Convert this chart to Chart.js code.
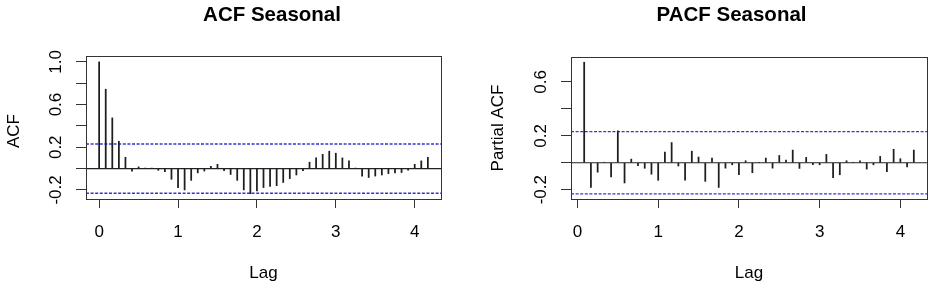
<!DOCTYPE html>
<html>
<head>
<meta charset="utf-8">
<script src="https://cdn.jsdelivr.net/npm/chart.js"></script>
<style>
    html, body { margin: 0; padding: 0; background: #fff; }
    .panel { position: absolute; top: 0; height: 290px; }
    #acfPanel { left: 0; width: 467px; }
    #pacfPanel { left: 467px; width: 468px; }
</style>
</head>
<body>
<div class="panel" id="acfPanel"><canvas id="acfChart" width="467" height="290"></canvas></div>
<div class="panel" id="pacfPanel"><canvas id="pacfChart" width="468" height="290"></canvas></div>

<script>
// --- Data (lags in years, frequency 12) ---
const acfLags = [];
for (let k = 0; k <= 50; k++) acfLags.push(k / 12);
const acfValues = [
    1.0, 0.744, 0.475, 0.256, 0.106, -0.024, 0.016, 0.003, 0.002, -0.016,
    -0.03, -0.10, -0.18, -0.20, -0.11, -0.04, -0.023, 0.02, 0.04, -0.02,
    -0.055, -0.11, -0.20, -0.235, -0.21, -0.178, -0.167, -0.16, -0.13, -0.094,
    -0.06, -0.02, 0.06, 0.10, 0.134, 0.163, 0.144, 0.10, 0.072, 0.003,
    -0.07, -0.084, -0.07, -0.06, -0.047, -0.04, -0.037, -0.015, 0.04, 0.072,
    0.106
];

const pacfLags = [];
for (let k = 1; k <= 50; k++) pacfLags.push(k / 12);
const pacfValues = [
    0.746, -0.183, -0.07, 0.004, -0.105, 0.237, -0.15, 0.027, -0.022, -0.041,
    -0.085, -0.13, 0.079, 0.15, -0.024, -0.13, 0.086, 0.042, -0.138, 0.035,
    -0.183, -0.04, -0.015, -0.089, 0.015, -0.074, 0.003, 0.035, -0.04, 0.054,
    0.02, 0.094, -0.042, 0.04, -0.015, -0.015, 0.062, -0.111, -0.089, 0.015,
    0.003, 0.015, -0.047, -0.015, 0.047, -0.067, 0.10, 0.03, -0.03, 0.094
];

const confLimit = 0.231;   // 1.96 / sqrt(n)

// tick positions and labels
const lagTicks = [0, 1, 2, 3, 4];
const lagTickLabels = ['0', '1', '2', '3', '4'];
const acfYTicks = [-0.2, 0, 0.2, 0.4, 0.6, 0.8, 1.0];
const acfYLabelValues = [-0.2, 0.2, 0.6, 1.0];
const acfYLabels = ['-0.2', '0.2', '0.6', '1.0'];
const pacfYTicks = [-0.2, 0, 0.2, 0.4, 0.6];
const pacfYLabelValues = [-0.2, 0.2, 0.6];
const pacfYLabels = ['-0.2', '0.2', '0.6'];

const FONT = "'Liberation Sans', Arial, sans-serif";
const AXIS_COL = '#333';
const CONF_COL = '#3434d2';

// Kutu + R tarzı metinler (döndürülmüş y etiketleri dahil)
const rStylePlugin = {
    id: 'rStyle',
    afterDraw(chart, args, opts) {
        const ctx = chart.ctx;
        const area = chart.chartArea;
        const xs = chart.scales.x;
        const ys = chart.scales.y;

        ctx.save();
        // box
        ctx.strokeStyle = AXIS_COL;
        ctx.lineWidth = 1;
        ctx.strokeRect(Math.round(area.left) + 0.5, Math.round(area.top) + 0.5,
            Math.round(area.right - area.left), Math.round(area.bottom - area.top));

        ctx.fillStyle = '#000';
        ctx.textBaseline = 'middle';
        ctx.textAlign = 'center';

        // title
        ctx.font = 'bold 20.5px ' + FONT;
        ctx.fillText(opts.title, opts.titleX, 15);

        // x tick labels + axis title
        ctx.font = '17px ' + FONT;
        opts.xTicks.forEach(function (v, i) {
            ctx.fillText(opts.xLabels[i], xs.getPixelForValue(v), 232);
        });
        ctx.fillText('Lag', (area.left + area.right) / 2, 273);

        // y tick labels, rotated
        opts.yValues.forEach(function (v, i) {
            ctx.save();
            ctx.translate(area.left - 30, ys.getPixelForValue(v));
            ctx.rotate(-Math.PI / 2);
            ctx.fillText(opts.yLabels[i], 0, 0);
            ctx.restore();
        });

        // y axis title
        ctx.save();
        ctx.translate(opts.yTitleX, opts.yTitleY);
        ctx.rotate(-Math.PI / 2);
        ctx.fillText(opts.yTitle, 0, 0);
        ctx.restore();

        ctx.restore();
    }
};

function makeSpikeChart(canvasId, lags, values, cfg) {
    const ctx = document.getElementById(canvasId).getContext('2d');
    const xMin = cfg.xMin, xMax = cfg.xMax;

    return new Chart(ctx, {
        type: 'bar',
        data: {
            datasets: [
                {
                    type: 'line',
                    data: [{ x: xMin, y: 0 }, { x: xMax, y: 0 }],
                    borderColor: '#222',
                    borderWidth: 1.2,
                    pointRadius: 0,
                    order: 1
                },
                {
                    type: 'line',
                    data: [{ x: xMin, y: confLimit }, { x: xMax, y: confLimit }],
                    borderColor: CONF_COL,
                    borderWidth: 1.4,
                    borderDash: [3, 1.6],
                    pointRadius: 0,
                    order: 2
                },
                {
                    type: 'line',
                    data: [{ x: xMin, y: -confLimit }, { x: xMax, y: -confLimit }],
                    borderColor: CONF_COL,
                    borderWidth: 1.4,
                    borderDash: [3, 1.6],
                    pointRadius: 0,
                    order: 2
                },
                {
                    type: 'bar',
                    data: lags.map(function (x, i) { return { x: x, y: values[i] }; }),
                    backgroundColor: '#1e1e1e',
                    barThickness: 1.1,
                    grouped: false,
                    order: 0
                }
            ]
        },
        options: {
            responsive: false,
            animation: false,
            devicePixelRatio: 1,
            layout: { padding: { top: cfg.top, right: cfg.right, left: 0, bottom: 0 } },
            plugins: {
                legend: { display: false },
                tooltip: { enabled: false },
                rStyle: cfg.text
            },
            scales: {
                x: {
                    type: 'linear',
                    min: xMin,
                    max: xMax,
                    offset: false,
                    afterBuildTicks: function (s) { s.ticks = lagTicks.map(function (v) { return { value: v }; }); },
                    afterFit: function (s) { s.height = 91; },
                    ticks: { display: false },
                    grid: { drawOnChartArea: false, drawTicks: true, tickLength: 9, color: AXIS_COL, offset: false },
                    border: { display: true, color: AXIS_COL }
                },
                y: {
                    type: 'linear',
                    min: cfg.yMin,
                    max: cfg.yMax,
                    afterBuildTicks: function (s) { s.ticks = cfg.yTicks.map(function (v) { return { value: v }; }); },
                    afterFit: function (s) { s.width = cfg.yAxisWidth; },
                    ticks: { display: false },
                    grid: { drawOnChartArea: false, drawTicks: true, tickLength: 10, color: AXIS_COL },
                    border: { display: true, color: AXIS_COL }
                }
            }
        },
        plugins: [rStylePlugin]
    });
}

// --- ACF ---
makeSpikeChart('acfChart', acfLags, acfValues, {
    xMin: -0.1667, xMax: 4.3333,
    yMin: -0.285, yMax: 1.055,
    yTicks: acfYTicks,
    top: 56, right: 26, yAxisWidth: 86,
    text: {
        title: 'ACF Seasonal', titleX: 272,
        xTicks: lagTicks, xLabels: lagTickLabels,
        yValues: acfYLabelValues, yLabels: acfYLabels,
        yTitle: 'ACF', yTitleX: 14, yTitleY: 131
    }
});

// --- PACF ---
makeSpikeChart('pacfChart', pacfLags, pacfValues, {
    xMin: -0.08, xMax: 4.33,
    yMin: -0.269, yMax: 0.785,
    yTicks: pacfYTicks,
    top: 57, right: 8, yAxisWidth: 104,
    text: {
        title: 'PACF Seasonal', titleX: 264.5,
        xTicks: lagTicks, xLabels: lagTickLabels,
        yValues: pacfYLabelValues, yLabels: pacfYLabels,
        yTitle: 'Partial ACF', yTitleX: 31, yTitleY: 128
    }
});
</script>
</body>
</html>
